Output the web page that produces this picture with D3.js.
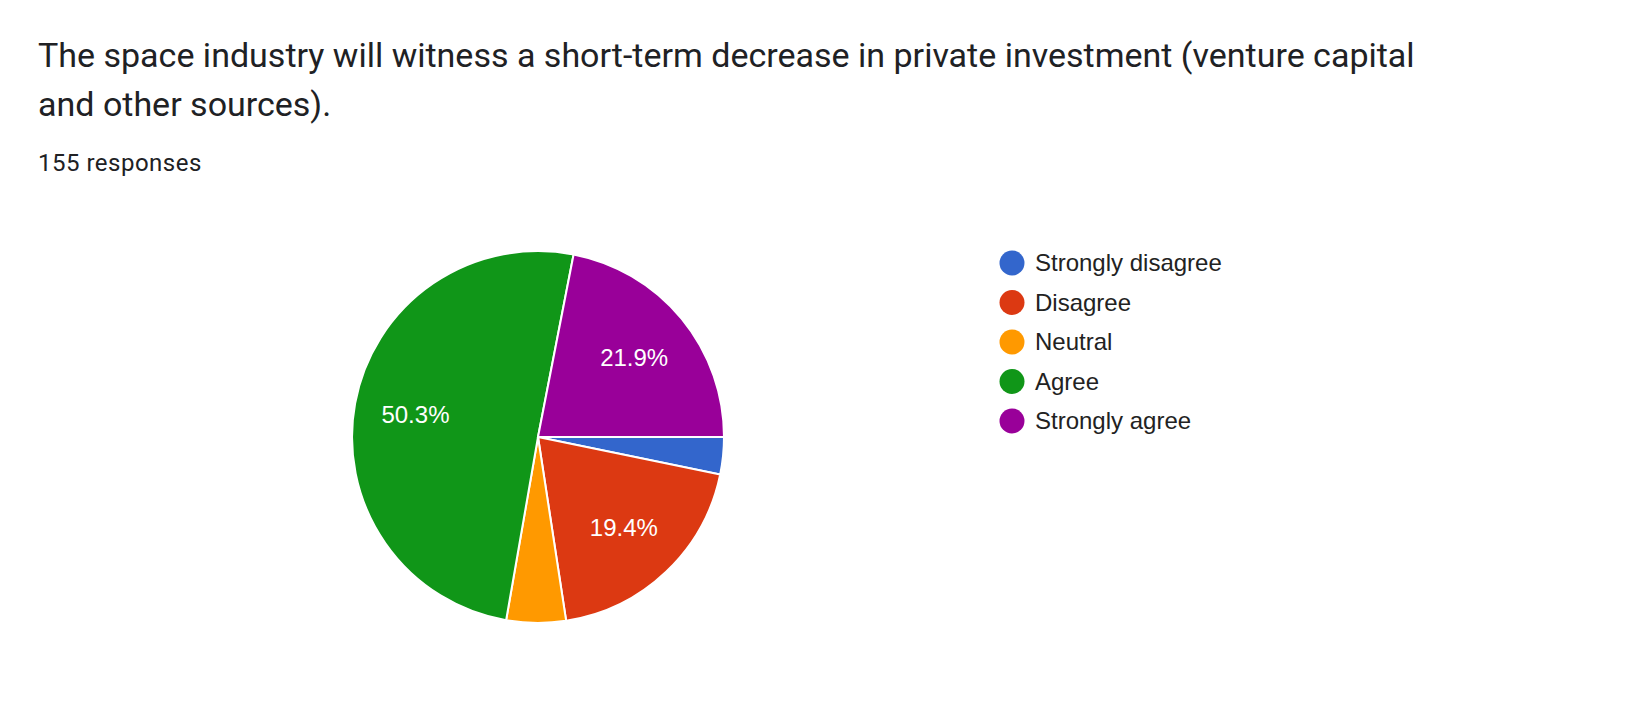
<!DOCTYPE html>
<html lang="en">
<head>
<meta charset="UTF-8">
<script src="https://d3js.org/d3.v7.min.js"></script>
<style>
  body { margin: 0; background: #fff; }
</style>
</head>
<body>
<svg id="chart" width="1650" height="718"></svg>
<script>
// answer categories and counts (155 responses)
const categories = ["Strongly disagree", "Disagree", "Neutral", "Agree", "Strongly agree"];
const counts = [5, 30, 8, 78, 34];
const colors = ["#3366cc", "#dc3912", "#ff9900", "#109618", "#990099"];

const svg = d3.select("#chart");

// title + response count
svg.append("text").attr("x", 38).attr("y", 67)
  .attr("font-family", "Roboto, 'Open Sans', sans-serif").attr("font-size", 34).attr("fill", "#202124")
  .text("The space industry will witness a short-term decrease in private investment (venture capital");
svg.append("text").attr("x", 38).attr("y", 116)
  .attr("font-family", "Roboto, 'Open Sans', sans-serif").attr("font-size", 34).attr("fill", "#202124")
  .text("and other sources).");
svg.append("text").attr("x", 38).attr("y", 171)
  .attr("font-family", "Roboto, sans-serif").attr("font-size", 24).attr("fill", "#202124")
  .attr("letter-spacing", 0.5)
  .text(counts.reduce((a, b) => a + b, 0) + " responses");

// pie
const cx = 538, cy = 437, r = 186;
const total = d3.sum(counts);
const pie = d3.pie().sort(null).startAngle(Math.PI / 2).endAngle(Math.PI / 2 + 2 * Math.PI);
const arcs = pie(counts);
const arc = d3.arc().innerRadius(0).outerRadius(r);
const labelArc = d3.arc().innerRadius(r * 0.67).outerRadius(r * 0.67);

const g = svg.append("g").attr("transform", `translate(${cx},${cy})`);
g.selectAll("path").data(arcs).enter().append("path")
  .attr("d", arc)
  .attr("fill", (d, i) => colors[i])
  .attr("stroke", "#fff").attr("stroke-width", 2);

g.selectAll("text.lbl").data(arcs.filter(d => d.value / total > 0.1)).enter().append("text")
  .attr("class", "lbl")
  .attr("transform", d => `translate(${labelArc.centroid(d)})`)
  .attr("text-anchor", "middle").attr("dy", "0.35em")
  .attr("font-family", "Arial, 'Liberation Sans', sans-serif").attr("font-size", 24).attr("fill", "#fff")
  .text(d => (d.value / total * 100).toFixed(1) + "%");

// legend
const legend = svg.append("g").attr("transform", "translate(1012,263)");
const item = legend.selectAll("g").data(categories).enter().append("g")
  .attr("transform", (d, i) => `translate(0,${i * 39.5})`);
item.append("circle").attr("r", 12.5).attr("fill", (d, i) => colors[i]);
item.append("text").attr("x", 23).attr("dy", "0.35em")
  .attr("font-family", "Arial, 'Liberation Sans', sans-serif").attr("font-size", 24).attr("fill", "#222")
  .text(d => d);
</script>
</body>
</html>
